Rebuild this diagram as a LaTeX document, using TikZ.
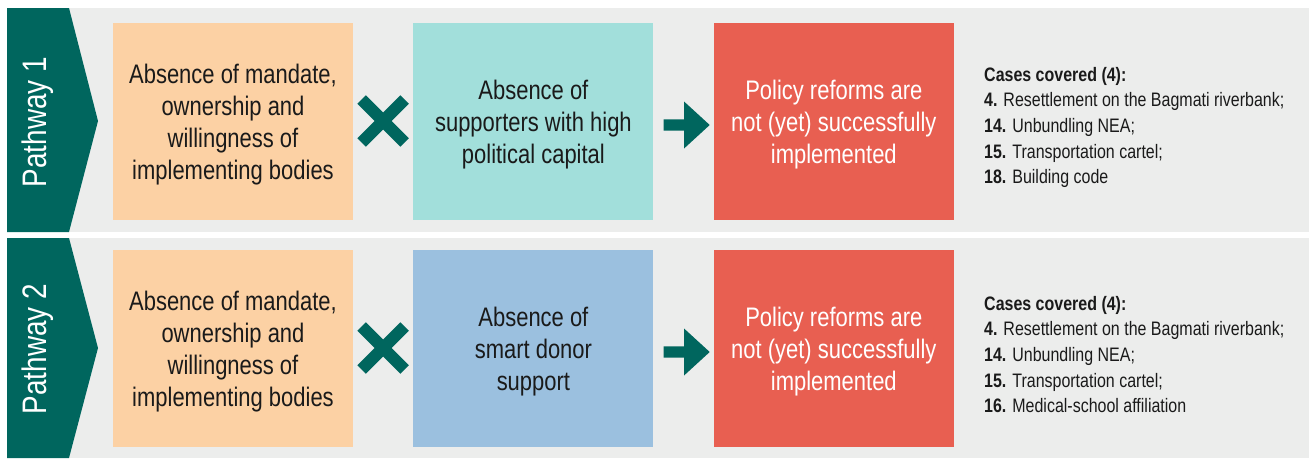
\documentclass[tikz,border=0pt]{standalone}
\usepackage{fontspec}
\setmainfont{Liberation Sans}[FakeStretch=0.82]
\usetikzlibrary{positioning,calc,shapes.misc,shapes.arrows}
\definecolor{pathteal}{HTML}{00665E}
\definecolor{panelgrey}{HTML}{ECEDEC}
\definecolor{peach}{HTML}{FCD1A4}
\definecolor{aqua}{HTML}{A2DFDB}
\definecolor{coral}{HTML}{E85F51}
\definecolor{skyblue}{HTML}{9BC0DF}
\definecolor{ink}{HTML}{1A1A1A}
\tikzset{
  cond/.style={minimum width=240pt,minimum height=197pt,inner sep=0pt},
  condtext/.style={align=center,inner sep=0pt,text=ink,font=\fontsize{26.8}{32}\selectfont},
  resulttext/.style={condtext,text=white},
  times/.style={draw=pathteal,cross out,line width=12pt,minimum size=31pt,inner sep=0pt},
  leadsto/.style={fill=pathteal,single arrow,minimum height=46pt,inner sep=0pt,
    single arrow head extend=17.8pt,single arrow tip angle=85},
  tabtext/.style={rotate=90,text=white,font=\fontsize{34}{40}\selectfont},
  cases/.style={anchor=west,align=left,inner sep=0pt,text=ink,font=\fontsize{19.5}{25.7}\selectfont}
}

\begin{document}
\begin{tikzpicture}[x=1pt,y=-1pt]
\useasboundingbox (0,0) rectangle (1309,459);
\fill[panelgrey] (7,8) rectangle (1309,232);
\fill[panelgrey] (7,238) rectangle (1309,458);
\fill[pathteal] (7,8) -- (69,8) -- (98,121) -- (69,232) -- (7,232) -- cycle;
\fill[pathteal] (7,238) -- (69,238) -- (98,348) -- (69,458) -- (7,458) -- cycle;
\node[tabtext] (p1) at (38,122) {Pathway 1};
\node[tabtext] (p2) at (38,349) {Pathway 2};

\node[cond,fill=peach] (a1) at (233,121) {};
\node[cond,fill=aqua,right=60pt of a1] (b1) {};
\node[cond,fill=coral,right=60pt of b1] (c1) {};
\node[condtext] (a1t) at ([yshift=-4pt]a1.center) {Absence of mandate,\\ownership and\\willingness of\\implementing bodies};
\node[condtext] (b1t) at ([yshift=-4pt]b1.center) {Absence of\\supporters with high\\political capital};
\node[resulttext] (c1t) at ([yshift=-4pt]c1.center) {Policy reforms are\\not (yet) successfully\\implemented};
\node[times] (x1) at ($(a1.east)!0.5!(b1.west)$) {};
\node[leadsto,yshift=-4pt] (r1) at ($(b1.east)!0.5!(c1.west)$) {\rule{0pt}{11pt}};
\node[cases] (l1) at (984,127.5) {\textbf{Cases covered (4):}\\\textbf{4.} Resettlement on the Bagmati riverbank;\\
  \textbf{14.} Unbundling NEA;\\\textbf{15.} Transportation cartel;\\\textbf{18.} Building code};

\node[cond,fill=peach] (a2) at (233,348) {};
\node[cond,fill=skyblue,right=60pt of a2] (b2) {};
\node[cond,fill=coral,right=60pt of b2] (c2) {};
\node[condtext] (a2t) at ([yshift=-4pt]a2.center) {Absence of mandate,\\ownership and\\willingness of\\implementing bodies};
\node[condtext] (b2t) at ([yshift=-4pt]b2.center) {Absence of\\smart donor\\support};
\node[resulttext] (c2t) at ([yshift=-4pt]c2.center) {Policy reforms are\\not (yet) successfully\\implemented};
\node[times] (x2) at ($(a2.east)!0.5!(b2.west)$) {};
\node[leadsto,yshift=-4pt] (r2) at ($(b2.east)!0.5!(c2.west)$) {\rule{0pt}{11pt}};
\node[cases] (l2) at (984,354.5) {\textbf{Cases covered (4):}\\\textbf{4.} Resettlement on the Bagmati riverbank;\\
  \textbf{14.} Unbundling NEA;\\\textbf{15.} Transportation cartel;\\\textbf{16.} Medical-school affiliation};
\end{tikzpicture}
\end{document}
